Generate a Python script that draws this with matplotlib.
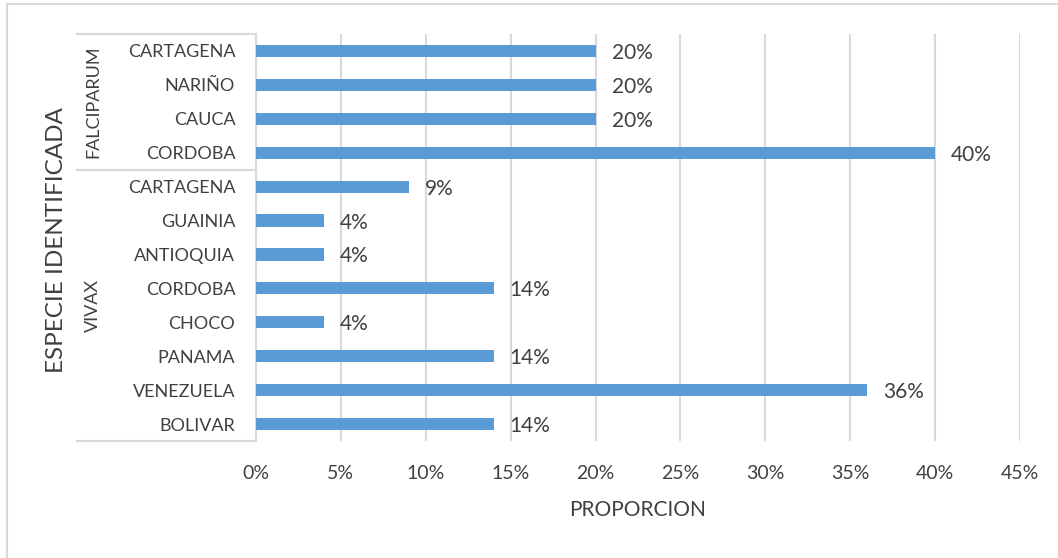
import matplotlib.pyplot as plt
from matplotlib.lines import Line2D
from matplotlib.ticker import FuncFormatter

# datos (de arriba hacia abajo)
grupos = ["FALCIPARUM", "VIVAX"]
lugares_falciparum = ["CARTAGENA", "NARIÑO", "CAUCA", "CORDOBA"]
prop_falciparum = [0.20, 0.20, 0.20, 0.40]
lugares_vivax = ["CARTAGENA", "GUAINIA", "ANTIOQUIA", "CORDOBA",
                 "CHOCO", "PANAMA", "VENEZUELA", "BOLIVAR"]
prop_vivax = [0.09, 0.04, 0.04, 0.14, 0.04, 0.14, 0.36, 0.14]
x_ticks = [0, 0.05, 0.10, 0.15, 0.20, 0.25, 0.30, 0.35, 0.40, 0.45]

lugares = lugares_falciparum + lugares_vivax
props = prop_falciparum + prop_vivax
n_f = len(lugares_falciparum)
n = len(lugares)

plt.rcParams['font.family'] = ['Lato', 'DejaVu Sans']
gris = '#404040'
linea = '#D9D9D9'

W, H = 1058, 558
fig = plt.figure(figsize=(W / 100, H / 100), dpi=100)
ax = fig.add_axes([256 / W, 1 - 441 / H, (1020 - 256) / W, (441 - 34) / H])

pos = list(range(n))
ax.barh(pos, props, height=0.36, color='#5B9BD5', zorder=3)
for y, v in zip(pos, props):
    ax.annotate(f"{v * 100:.0f}%", (v, y), xytext=(16, -2), textcoords='offset pixels',
                va='center', ha='left', fontsize=15, color=gris)

ax.set_xlim(0, 0.45)
ax.set_ylim(n - 0.5, -0.5)
ax.set_xticks(x_ticks)
ax.xaxis.set_major_formatter(FuncFormatter(lambda v, p: f"{v * 100:.0f}%"))
ax.set_yticks(pos)
ax.set_yticklabels(lugares)
ax.tick_params(axis='both', length=0, labelsize=14, labelcolor=gris)
ax.tick_params(axis='y', labelsize=13, pad=15)
ax.tick_params(axis='x', pad=17)
for t in ax.get_yticklabels():
    t.set_y(t.get_position()[1])
ax.grid(axis='x', color=linea, linewidth=1.5, zorder=0)
for s in ['top', 'right', 'bottom']:
    ax.spines[s].set_visible(False)
ax.spines['left'].set_color(linea)
ax.spines['left'].set_linewidth(1.5)

ax.set_xlabel("PROPORCION", fontsize=15, color=gris, labelpad=13)

# caja de categorias multinivel
x0 = (77 - 256) / (1020 - 256)
tr = ax.get_yaxis_transform()
for yy in [-0.5, n_f - 0.5, n - 0.5]:
    ax.add_line(Line2D([x0, 0], [yy, yy], transform=tr, color=linea,
                       linewidth=1.5, clip_on=False))

xg = (93 - 256) / (1020 - 256)
ax.text(xg, (n_f - 1) / 2, grupos[0], transform=tr, rotation=90, ha='center',
        va='center', fontsize=13, color=gris)
ax.text(xg, (n_f + n - 1) / 2, grupos[1], transform=tr, rotation=90, ha='center',
        va='center', fontsize=13, color=gris)
fig.text(57 / W, 1 - 240 / H, "ESPECIE IDENTIFICADA", rotation=90, ha='center',
         va='center', fontsize=17.5, color=gris)

# borde del grafico
fig.add_artist(Line2D([7 / W, 7 / W], [0, 1 - 4 / H], color=linea, linewidth=1.5))
fig.add_artist(Line2D([7 / W, 1], [1 - 4 / H, 1 - 4 / H], color=linea, linewidth=1.5))

fig.savefig("out.png", dpi=100)
